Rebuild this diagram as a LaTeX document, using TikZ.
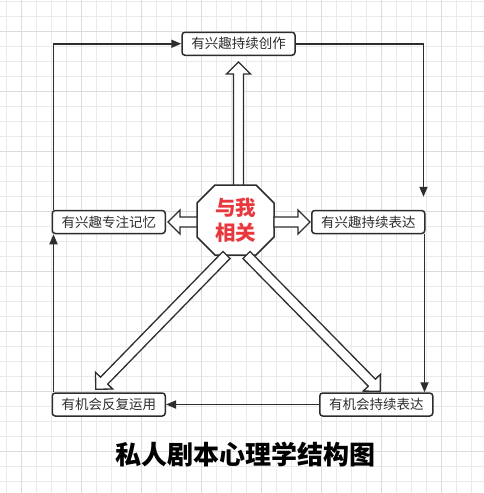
\documentclass[tikz,border=0pt]{standalone}
\usepackage{fontspec}
\setmainfont{Noto Sans CJK SC}
\usetikzlibrary{positioning, arrows.meta, calc}

\definecolor{lineGray}{RGB}{45,45,45}
\definecolor{relRed}{RGB}{232,56,61}
\definecolor{gridGray}{RGB}{234,234,234}
\definecolor{gridDark}{RGB}{220,220,220}

\tikzset{
    gridLine/.style={draw=gridGray, line width=0.6pt},
    gridMajor/.style={draw=gridDark, line width=0.8pt},
    stepBox/.style={draw=lineGray, line width=1.5pt, rounded corners=3pt, fill=white, minimum width=113pt, minimum height=23pt, inner sep=0pt, text=lineGray, font=\fontsize{13.5}{15}\selectfont},
    octBox/.style={draw=none, minimum width=77pt, minimum height=70pt, inner sep=0pt, outer sep=0pt},
    octLine/.style={draw=lineGray, line width=1.5pt, fill=white},
    relText/.style={text=relRed, align=center, inner sep=0pt, font=\fontsize{20.5}{25}\selectfont\bfseries},
    titleText/.style={text=black, inner sep=0pt, font=\fontsize{26}{30}\selectfont\bfseries},
    flowLine/.style={draw=lineGray, line width=1.7pt, -{Triangle[length=10pt, width=8pt]}},
    hollowArrow/.style={draw=lineGray, line width=1.3pt, fill=white,
        to path={
            ($(\tikztostart)!5pt!90:(\tikztotarget)$)
            -- ($(\tikztotarget)!12pt!(\tikztostart)!5pt!-90:(\tikztostart)$)
            -- ($(\tikztotarget)!12pt!(\tikztostart)!12pt!-90:(\tikztostart)$)
            -- (\tikztotarget)
            -- ($(\tikztotarget)!12pt!(\tikztostart)!12pt!90:(\tikztostart)$)
            -- ($(\tikztotarget)!12pt!(\tikztostart)!5pt!90:(\tikztostart)$)
            -- ($(\tikztostart)!5pt!-90:(\tikztotarget)$)
            -- cycle
        }},
}

\begin{document}
\begin{tikzpicture}[x=1pt, y=-1pt]
        %%% Canvas
            % White page with the light grid
            \fill[white] (0,0) rectangle (484,493);
            \useasboundingbox (0,0) rectangle (484,493);
            \foreach \gx in {6.7,21.7,...,484} \draw[gridLine] (\gx,0) -- (\gx,493);
            \foreach \gy in {1.7,16.7,...,493} \draw[gridLine] (0,\gy) -- (484,\gy);
            \foreach \gx in {21.7,81.7,...,484} \draw[gridMajor] (\gx,0) -- (\gx,493);
            \foreach \gy in {31.7,91.7,...,493} \draw[gridMajor] (0,\gy) -- (484,\gy);

        %%% Centre element
            % Invisible node that carries the octagon
            \node[octBox] (octCenter) at (235.5,220) {};

            % Draw the eight sides of the octagon
            \draw[octLine] ([xshift=18pt]octCenter.north west) -- ([xshift=-18pt]octCenter.north east) % Top side
                -- ([yshift=-18pt]octCenter.north east) -- ([yshift=18pt]octCenter.south east) % Right side
                -- ([xshift=-18pt]octCenter.south east) -- ([xshift=18pt]octCenter.south west) % Bottom side
                -- ([yshift=18pt]octCenter.south west) -- ([yshift=-18pt]octCenter.north west) % Left side
                -- cycle;

            % Red text on top of the octagon
            \node[relText] (octText) at (octCenter) {与我\\相关};

        %%% Surrounding boxes
            \node[stepBox, above=129pt of octCenter, xshift=3pt] (boxTop) {有兴趣持续创作};
            \node[stepBox, left=31pt of octCenter, yshift=-2pt] (boxLeft) {有兴趣专注记忆};
            \node[stepBox, right=37pt of octCenter, yshift=-2pt] (boxRight) {有兴趣持续表达};
            \node[stepBox, below=158pt of boxLeft] (boxBottomLeft) {有机会反复运用};
            \node[stepBox, right=153pt of boxBottomLeft] (boxBottomRight) {有机会持续表达};

        %%% Cycle of thin connectors
            \draw[flowLine] ([xshift=2pt]boxLeft.north west) |- (boxTop.west); % Left up to top
            \draw[flowLine, shorten >=13pt] (boxTop.east) -| ([xshift=-2pt]boxRight.north east); % Top down to right
            \coordinate (rightDrop) at ([xshift=-1pt]boxRight.south east);
            \draw[flowLine] (rightDrop) -- (rightDrop |- boxBottomRight.north); % Right down to bottom
            \draw[flowLine] (boxBottomRight.west) -- (boxBottomLeft.east); % Bottom right to bottom left
            \draw[flowLine] ([xshift=2pt]boxBottomLeft.north west) -- ([xshift=2pt]boxLeft.south west); % Bottom left up

        %%% Hollow arrows out of the octagon
            \coordinate (upBase) at (octCenter.north -| boxTop.south);
            \coordinate (upTip) at ([yshift=-6pt]boxTop.south);
            \coordinate (leftBase) at (octCenter.west |- boxLeft.east);
            \coordinate (leftTip) at ([xshift=2pt]boxLeft.east);
            \coordinate (rightBase) at (octCenter.east |- boxRight.west);
            \coordinate (rightTip) at ([xshift=-1pt]boxRight.west);
            \coordinate (diagLeftBase) at ([xshift=-9pt]octCenter.south);
            \coordinate (diagLeftTip) at ([xshift=-13pt, yshift=3pt]boxBottomLeft.north);
            \coordinate (diagRightBase) at ([xshift=11pt]octCenter.south);
            \coordinate (diagRightTip) at ([xshift=4pt, yshift=1pt]boxBottomRight.north);

            \draw[hollowArrow] (upBase) to (upTip);
            \draw[hollowArrow] (leftBase) to (leftTip);
            \draw[hollowArrow] (rightBase) to (rightTip);
            \draw[hollowArrow] (diagLeftBase) to (diagLeftTip);
            \draw[hollowArrow] (diagRightBase) to (diagRightTip);

        %%% Title
            \node[titleText] (chartTitle) at (245,455) {私人剧本心理学结构图};
\end{tikzpicture}
\end{document}
